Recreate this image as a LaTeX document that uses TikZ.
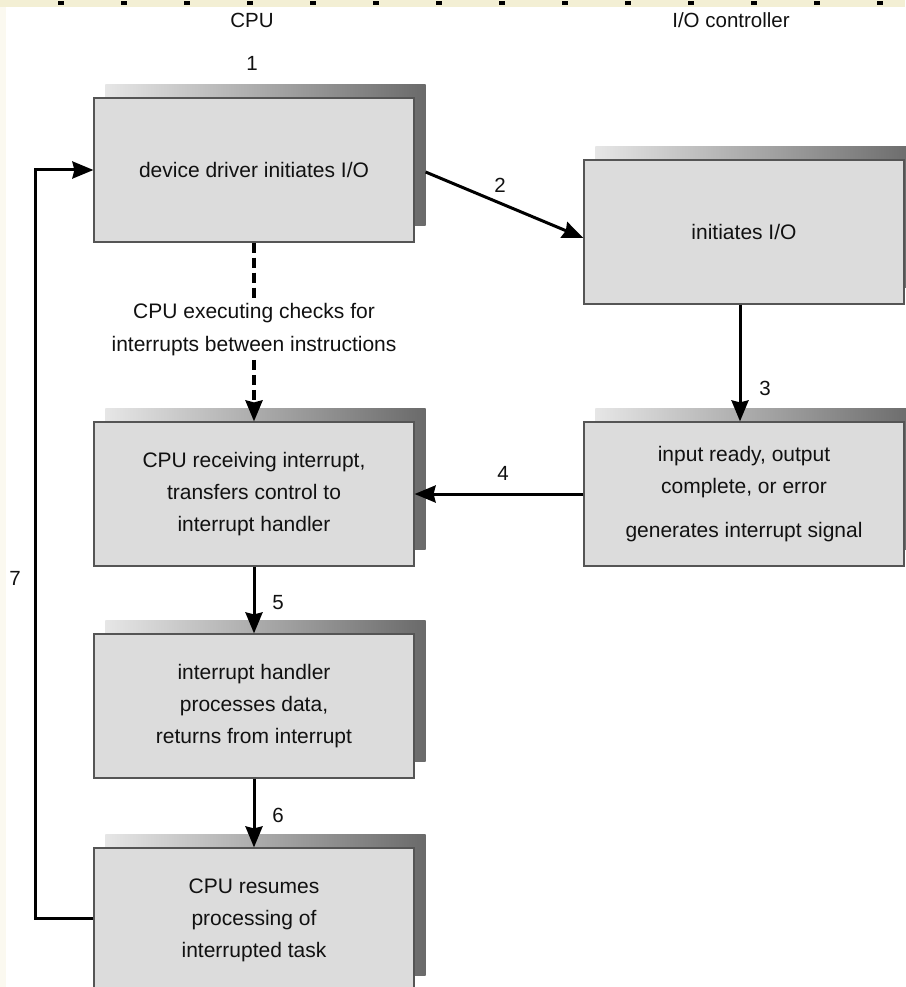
\documentclass[tikz,border=0pt]{standalone}
\usepackage{fontspec}
\setmainfont{Liberation Sans}
\usetikzlibrary{arrows.meta,backgrounds}

\begin{document}
\begin{tikzpicture}[x=1pt, y=-1pt,
    stage/.style={rectangle, draw=borderColour, line width=1.2pt, fill=fillColourBox,
        minimum width=320pt, minimum height=144pt, align=center, text=textColour,
        font=\fontsize{21}{32}\selectfont},
    flow/.style={line width=3pt, -{Stealth[length=21pt,width=17pt,inset=2pt]}},
    poll/.style={flow, line width=3.5pt, dash pattern=on 10pt off 5pt},
    numLabel/.style={text=textColour, font=\fontsize{20.5}{24}\selectfont}]
    \definecolor{borderColour}{HTML}{555555}
    \definecolor{fillColourBox}{HTML}{DCDCDC}
    \definecolor{shadowColourLight}{HTML}{E6E6E6}
    \definecolor{shadowColourDark}{HTML}{6A6A6A}
    \definecolor{textColour}{HTML}{111111}
    \definecolor{stripColour}{HTML}{F3EFD4}

    \def\cpuCol{254}
    \def\ioCol{744}

    \useasboundingbox (0,0) rectangle (905,987);

    % Column headings
    \node[numLabel] (cpuHead) at (252,20) {CPU};
    \node[numLabel] (ioHead) at (731,20) {I/O controller};

    % CPU side
    \node[stage] (driver) at (\cpuCol,170) {device driver initiates I/O};
    \node[align=center, text=textColour, font=\fontsize{21}{33}\selectfont] (checks) at (\cpuCol,330)
        {CPU executing checks for\\interrupts between instructions};
    \node[stage] (receive) at (\cpuCol,494) {CPU receiving interrupt,\\transfers control to\\interrupt handler};
    \node[stage] (handler) at (\cpuCol,706) {interrupt handler\\processes data,\\returns from interrupt};
    \node[stage] (resume) at (\cpuCol,920) {CPU resumes\\processing of\\interrupted task};

    % I/O controller side
    \node[stage] (start) at (\ioCol,232) {initiates I/O};
    \node[stage] (ready) at (\ioCol,494) {input ready, output\\complete, or error\\[12pt]generates interrupt signal};

    % Step numbers
    \node[numLabel] (n1) at (252,63) {1};
    \node[numLabel] (n2) at (500,185) {2};
    \node[numLabel] (n3) at (765,388) {3};
    \node[numLabel] (n4) at (503,473) {4};
    \node[numLabel] (n5) at (278,603) {5};
    \node[numLabel] (n6) at (278,815) {6};
    \node[numLabel] (n7) at (15,578) {7};

    % Connectors
    \draw[flow] ([shift={(11,2)}]driver.east) -- ([shift={(0,6)}]start.west);
    \draw[poll, -] (driver.south) -- (checks.north);
    \draw[poll] (checks.south) -- (receive.north);
    \draw[flow] ([xshift=-4pt]start.south) -- ([xshift=-4pt]ready.north);
    \draw[flow] (ready.west) -- (receive.east);
    \draw[flow] (receive.south) -- (handler.north);
    \draw[flow] (handler.south) -- (resume.north);
    \draw[flow] ([shift={(0,-2)}]resume.west) -- ++(-58,0) |- (driver.west);

    % Page, border strips and box shadows
    \begin{scope}[on background layer]
        \fill[white] (0,0) rectangle (905,987);
        \fill[stripColour!35] (0,0) rectangle (6,987);
        \fill[stripColour] (0,0) rectangle (905,7);
        \draw[line width=4pt, dash pattern=on 6pt off 57pt] (58,3) -- (905,3);
        \foreach \n in {driver,start,receive,ready,handler,resume}
            \shade[left color=shadowColourLight, right color=shadowColourDark]
                ([shift={(12,-13)}]\n.north west) rectangle ([shift={(11,-17)}]\n.south east);
    \end{scope}

\end{tikzpicture}
\end{document}
